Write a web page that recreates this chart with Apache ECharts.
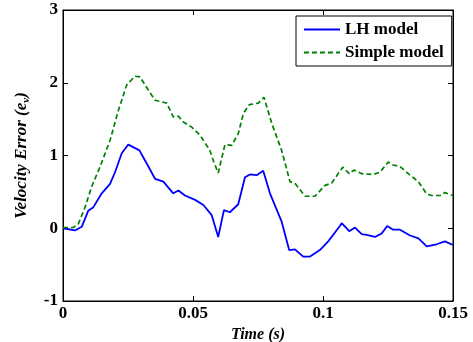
<!DOCTYPE html>
<html>
<head>
<meta charset="utf-8">
<script src="https://cdn.jsdelivr.net/npm/echarts@6/dist/echarts.min.js"></script>
<style>
  html, body { margin: 0; padding: 0; background: #fff; }
  #chart { width: 473px; height: 342px; }
</style>
</head>
<body>
<div id="chart"></div>
<script>
// LH model (blue, solid)
const lhTime = [0, 0.0046, 0.0072, 0.0097, 0.0117, 0.0149, 0.0181, 0.0200, 0.0226, 0.0251,
  0.0294, 0.0322, 0.0354, 0.0386, 0.0424, 0.0444, 0.0469, 0.0508, 0.0540, 0.0572,
  0.0597, 0.0619, 0.0642, 0.0674, 0.0700, 0.0719, 0.0745, 0.0770, 0.0796, 0.0841,
  0.0870, 0.0892, 0.0924, 0.0950, 0.0988, 0.1020, 0.1065, 0.1072, 0.1101, 0.1123,
  0.1149, 0.1168, 0.1200, 0.1226, 0.1247, 0.1270, 0.1296, 0.1335, 0.1367, 0.1399,
  0.1437, 0.1469, 0.1500];
const lhValue = [0, -0.03, 0.02, 0.24, 0.29, 0.48, 0.61, 0.77, 1.03, 1.15,
  1.07, 0.89, 0.68, 0.64, 0.48, 0.52, 0.45, 0.39, 0.32, 0.18,
  -0.12, 0.25, 0.22, 0.33, 0.70, 0.74, 0.73, 0.79, 0.48, 0.09,
  -0.30, -0.29, -0.39, -0.39, -0.30, -0.18, 0.03, 0.07, -0.04, 0.01,
  -0.08, -0.09, -0.12, -0.07, 0.03, -0.02, -0.02, -0.10, -0.14, -0.25,
  -0.22, -0.18, -0.23];

// Simple model (green, dashed)
const simpleTime = [0, 0.0040, 0.0059, 0.0085, 0.0110, 0.0142, 0.0181, 0.0213, 0.0245, 0.0277,
  0.0296, 0.0328, 0.0354, 0.0399, 0.0424, 0.0444, 0.0463, 0.0495, 0.0527, 0.0565,
  0.0578, 0.0597, 0.0623, 0.0649, 0.0674, 0.0694, 0.0717, 0.0751, 0.0773, 0.0803,
  0.0841, 0.0873, 0.0892, 0.0931, 0.0969, 0.1008, 0.1033, 0.1076, 0.1101, 0.1119,
  0.1149, 0.1194, 0.1219, 0.1251, 0.1270, 0.1296, 0.1335, 0.1367, 0.1399, 0.1418,
  0.1450, 0.1469, 0.1500];
const simpleValue = [0.01, 0.01, 0.06, 0.29, 0.57, 0.84, 1.21, 1.62, 1.97, 2.09,
  2.08, 1.90, 1.76, 1.72, 1.53, 1.54, 1.46, 1.39, 1.28, 1.07,
  0.93, 0.76, 1.15, 1.14, 1.30, 1.58, 1.70, 1.72, 1.80, 1.44,
  1.07, 0.64, 0.62, 0.44, 0.44, 0.59, 0.62, 0.84, 0.75, 0.80,
  0.75, 0.74, 0.77, 0.91, 0.87, 0.85, 0.73, 0.64, 0.47, 0.45,
  0.45, 0.49, 0.45];

const xTicks = [0, 0.05, 0.1, 0.15];
const yTicks = [-1, 0, 1, 2, 3];

const zip = (xs, ys) => xs.map((x, i) => [x, ys[i]]);

const font = '"Liberation Serif", "DejaVu Serif", serif';
const axisLine = { show: true, onZero: false, lineStyle: { color: '#000', width: 1 } };
const tick = { show: true, inside: true, length: 5, lineStyle: { color: '#000' } };
const label = { fontFamily: font, fontWeight: 'bold', fontSize: 17, color: '#000' };

const chart = echarts.init(document.getElementById('chart'), null, { renderer: 'canvas' });

chart.setOption({
  animation: false,
  backgroundColor: '#fff',
  grid: {
    left: 63, right: 20, top: 10, bottom: 41,
    containLabel: false,
    outerBoundsMode: 'none',
    show: true,
    borderColor: '#000',
    borderWidth: 1,
    backgroundColor: 'transparent'
  },
  legend: {
    orient: 'vertical',
    left: 296,
    top: 16,
    width: 151,
    padding: [5, 8, 5, 7],
    itemGap: 6,
    itemWidth: 36,
    itemHeight: 12,
    backgroundColor: '#fff',
    borderColor: '#000',
    borderWidth: 1,
    itemStyle: { opacity: 0 },
    textStyle: { fontFamily: font, fontWeight: 'bold', fontSize: 17, color: '#000' },
    data: ['LH model', 'Simple model']
  },
  xAxis: [{
    type: 'value',
    min: xTicks[0],
    max: xTicks[xTicks.length - 1],
    interval: 0.05,
    name: 'Time (s)',
    nameLocation: 'middle',
    nameGap: 15,
    nameTextStyle: { fontFamily: font, fontWeight: 'bold', fontStyle: 'italic', fontSize: 16, color: '#000', verticalAlign: 'middle' },
    axisLine, axisTick: tick,
    axisLabel: { ...label, margin: 4 },
    splitLine: { show: false }
  }, {
    type: 'value',
    position: 'top',
    min: xTicks[0],
    max: xTicks[xTicks.length - 1],
    interval: 0.05,
    axisLine, axisTick: tick,
    axisLabel: { show: false },
    splitLine: { show: false }
  }],
  yAxis: [{
    type: 'value',
    min: yTicks[0],
    max: yTicks[yTicks.length - 1],
    interval: 1,
    name: '{a|Velocity Error (e}{b|v}{a|)}',
    nameLocation: 'middle',
    nameRotate: 90,
    nameGap: 31,
    nameTextStyle: {
      rich: {
        a: { fontFamily: font, fontWeight: 'bold', fontStyle: 'italic', fontSize: 17, color: '#000' },
        b: { fontFamily: font, fontWeight: 'bold', fontStyle: 'italic', fontSize: 11, color: '#000', verticalAlign: 'bottom', padding: [9, 0, 0, 0] }
      }
    },
    axisLine, axisTick: tick,
    axisLabel: { ...label, margin: 5 },
    splitLine: { show: false }
  }, {
    type: 'value',
    position: 'right',
    min: yTicks[0],
    max: yTicks[yTicks.length - 1],
    interval: 1,
    axisLine, axisTick: tick,
    axisLabel: { show: false },
    splitLine: { show: false }
  }],
  series: [{
    name: 'LH model',
    type: 'line',
    symbol: 'none',
    data: zip(lhTime, lhValue),
    itemStyle: { color: '#0000ff' },
    lineStyle: { color: '#0000ff', width: 1.8 }
  }, {
    name: 'Simple model',
    type: 'line',
    symbol: 'none',
    data: zip(simpleTime, simpleValue),
    itemStyle: { color: '#008000' },
    lineStyle: { color: '#008000', width: 1.7, type: [5, 3] }
  }]
});
</script>
</body>
</html>
